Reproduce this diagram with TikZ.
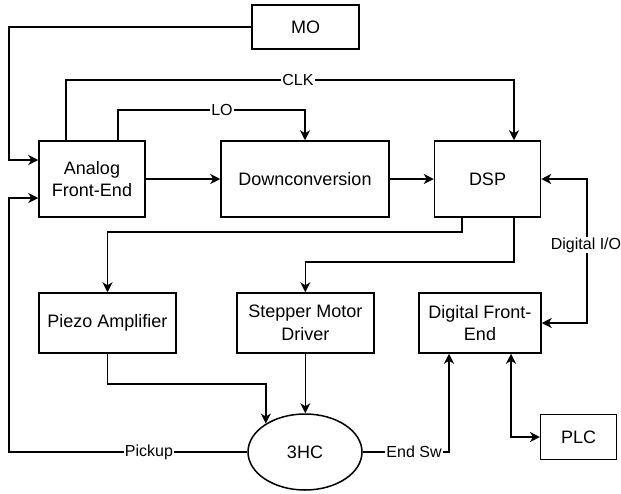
\documentclass[tikz,border=0pt]{standalone}
\usepackage{fontspec}
\setmainfont{Liberation Sans}
\usetikzlibrary{arrows.meta,shapes.geometric}
\begin{document}
\begin{tikzpicture}[x=1pt,y=-1pt,
  line width=1.5pt,
  box/.style={draw,rectangle,align=center,inner sep=2pt,font=\fontsize{18}{22.5}\selectfont},
  oval/.style={draw,ellipse,inner sep=0pt,font=\fontsize{18}{22.5}\selectfont},
  lbl/.style={fill=white,inner sep=1pt,font=\fontsize{16}{19}\selectfont},
  arr/.style={-{Stealth[length=10pt,width=10pt,inset=3pt]}},
  arrboth/.style={{Stealth[length=10pt,width=10pt,inset=3pt]}-{Stealth[length=10pt,width=10pt,inset=3pt]}}]
\useasboundingbox (0,0) rectangle (621,493);

\node[box,minimum width=107pt,minimum height=44pt] (MO) at (305.5,27) {MO};
\node[box,minimum width=106pt,minimum height=76pt] (AFE) at (92,179) {Analog\\Front-End};
\node[box,minimum width=168pt,minimum height=76pt] (Down) at (305,179) {Downconversion};
\node[box,minimum width=106pt,minimum height=76pt] (DSP) at (487.5,179) {DSP};
\node[box,minimum width=137pt,minimum height=60pt] (Piezo) at (107.5,323) {Piezo Amplifier};
\node[box,minimum width=137pt,minimum height=60pt] (Step) at (305.3,323) {Stepper Motor\\Driver};
\node[box,minimum width=122pt,minimum height=60pt] (DFE) at (480,323) {Digital Front-\\End};
\node[box,minimum width=76pt,minimum height=45pt] (PLC) at (578.7,437) {PLC};
\node[oval,minimum width=114pt,minimum height=76pt] (HC) at (305,452) {3HC};
\coordinate (hcin) at (HC.144.6);

% MO -> AFE
\draw[arr] (MO.west) -| (9,160) -- (AFE.west |- 0,160);
% Pickup
\draw[arr] (HC.west) -| (9,198) -- (AFE.west |- 0,198);
\node[lbl] (lpick) at (149,452) {Pickup};
% CLK
\draw[arr] (AFE.north -| 66,0) |- (514,80) -- (DSP.north -| 514,0);
\node[lbl] (lclk) at (298,80) {CLK};
% LO
\draw[arr] (AFE.north -| 118,0) |- (305,110) -- (Down.north);
\node[lbl] (llo) at (222,110) {LO};
% chain
\draw[arr] (AFE.east) -- (Down.west);
\draw[arr] (Down.east) -- (DSP.west);
% Digital I/O
\draw[arrboth] (DSP.east) -| (587,323) -- (DFE.east);
\node[lbl] (ldio) at (586,245) {Digital I/O};
% DSP -> Piezo
\draw[arr] (DSP.south -| 462,0) |- (107.5,232) -- (Piezo.north);
% DSP -> Stepper
\draw[arr] (DSP.south -| 514,0) |- (305.3,262) -- (Step.north);
% Piezo -> HC
\draw[arr] (Piezo.south) |- (hcin |- 0,384) -- (hcin);
% Stepper -> HC
\draw[arr] (Step.south) -- (HC.north -| Step.south);
% End Sw
\draw[arr] (HC.east) -| (DFE.south -| 449,0);
\node[lbl] (lend) at (414,452) {End Sw};
% DFE <-> PLC
\draw[arrboth] (DFE.south -| 511,0) |- (PLC.west);
\end{tikzpicture}
\end{document}
